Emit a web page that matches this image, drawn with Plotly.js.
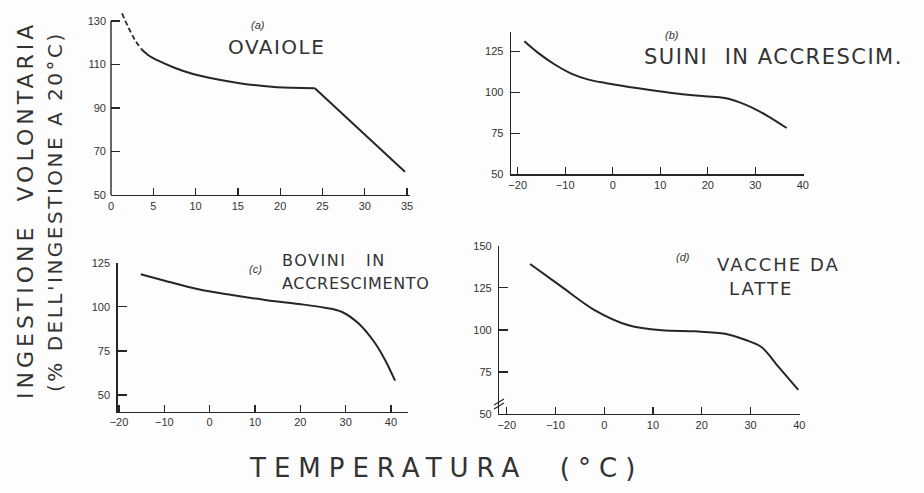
<!DOCTYPE html>
<html>
<head>
<meta charset="utf-8">
<script src="https://cdn.plot.ly/plotly-3.0.1.min.js"></script>
<style>
html,body{margin:0;padding:0;background:#fdfdfd;}
#chart{width:924px;height:493px;}
text[data-unformatted^="INGESTIONE"]{letter-spacing:4px;}
text[data-unformatted^="(%"]{letter-spacing:2.5px;}
text[data-unformatted^="TEMPERATURA"]{letter-spacing:8px;}
text[data-unformatted^="OVAIOLE"]{letter-spacing:1.5px;}
text[data-unformatted^="SUINI"]{letter-spacing:1.5px;}
text[data-unformatted^="BOVINI"]{letter-spacing:1.5px;}
text[data-unformatted^="ACCRESCIMENTO"]{letter-spacing:0.7px;}
text[data-unformatted^="VACCHE"]{letter-spacing:2px;}
text[data-unformatted^="LATTE"]{letter-spacing:2px;}
</style>
</head>
<body>
<div id="chart"></div>
<script>
// ---- data ----
// (a) Ovaiole (laying hens)
const aDashX = [1.3, 2.0, 2.8, 3.6];
const aDashY = [133.5, 127.5, 121.5, 117.0];
const aCurveX = [3.6, 4.5, 5.4, 7.5, 9.7, 12.5, 15.2, 19.6, 24.1];
const aCurveY = [117.0, 114.0, 112.1, 108.5, 105.6, 103.2, 101.4, 99.5, 99.1];
const aLineX = [24.1, 34.75];
const aLineY = [99.1, 60.7];
const aTicksX = [0, 5, 10, 15, 20, 25, 30, 35];
const aTicksY = [50, 70, 90, 110, 130];

// (b) Suini in accrescimento (growing pigs)
const bX = [-18.6, -15.7, -12.2, -8.6, -5.1, -1.6, 5.4, 12.4, 19.4, 23.6, 27.9, 32.1, 36.6];
const bY = [131.1, 124.0, 116.9, 111.2, 107.7, 105.7, 102.4, 99.6, 97.6, 96.5, 92.5, 86.4, 78.2];

// (c) Bovini in accrescimento (growing cattle)
const cX = [-15.2, -9.9, -2.5, 4.9, 12.2, 19.6, 25.4, 29.1, 32.8, 36.5, 38.7, 40.9];
const cY = [118.4, 114.8, 109.9, 106.7, 103.9, 101.6, 99.5, 97.2, 90.6, 79.3, 69.8, 58.1];

// (d) Vacche da latte (dairy cows)
const dX = [-15.2, -8.7, -1.9, 5.0, 11.8, 18.7, 24.8, 28.9, 32.3, 35.8, 39.8];
const dY = [139.1, 125.5, 111.6, 102.7, 99.7, 99.1, 97.7, 94.1, 89.7, 77.8, 64.3];

const tempTicks = [-20, -10, 0, 10, 20, 30, 40];
const ticksY25 = [50, 75, 100, 125];
const ticksYd = [50, 75, 100, 125, 150];

const panelLabels = ['(a)', '(b)', '(c)', '(d)'];
const panelNames = ['OVAIOLE', 'SUINI\u00a0 IN ACCRESCIM.', 'BOVINI\u00a0\u00a0 IN', 'ACCRESCIMENTO', 'VACCHE DA', 'LATTE'];
const yTitle1 = 'INGESTIONE\u00a0 VOLONTARIA';
const yTitle2 = "(% DELL'INGESTIONE A 20°C)";
const xTitle = 'TEMPERATURA\u00a0 (°C)';

// ---- layout helpers (pixel -> paper) ----
const W = 924, H = 493;
const px = v => v / W;
const py = v => 1 - v / H;

const ink = '#262626';
const hand = '#333333';
const lineStyle = {color: ink, width: 2};
const smooth = {shape: 'spline', smoothing: 0.9};

const traces = [
  {x: aDashX, y: aDashY, xaxis: 'x', yaxis: 'y', mode: 'lines', line: {color: ink, width: 1.8, dash: '5px,3px', shape: 'spline', smoothing: 0.9}},
  {x: aCurveX, y: aCurveY, xaxis: 'x', yaxis: 'y', mode: 'lines', line: Object.assign({}, smooth, lineStyle)},
  {x: aLineX, y: aLineY, xaxis: 'x', yaxis: 'y', mode: 'lines', line: lineStyle},
  {x: bX, y: bY, xaxis: 'x2', yaxis: 'y2', mode: 'lines', line: Object.assign({}, smooth, lineStyle)},
  {x: cX, y: cY, xaxis: 'x3', yaxis: 'y3', mode: 'lines', line: Object.assign({}, smooth, lineStyle)},
  {x: dX, y: dY, xaxis: 'x4', yaxis: 'y4', mode: 'lines', line: Object.assign({}, smooth, lineStyle)}
];

const tickFont = {family: 'Liberation Sans, Arial, sans-serif', size: 11, color: '#333'};
function xa(domain, range, tickvals, anchor) {
  return {domain, range, tickvals, ticktext: tickvals.map(v => v < 0 ? '\u2212' + Math.abs(v) : String(v)),
    anchor, showline: true, linecolor: ink, linewidth: 1.4, ticks: 'inside', ticklen: 7, tickwidth: 1.3,
    tickcolor: ink, showgrid: false, zeroline: false, tickfont: tickFont, fixedrange: true};
}
function ya(domain, range, tickvals, anchor, showline) {
  return {domain, range, tickvals, anchor, showline: showline, linecolor: ink, linewidth: 1.4,
    ticks: 'inside', ticklen: 9, tickwidth: 1.3, tickcolor: ink, showgrid: false, zeroline: false,
    tickfont: tickFont, ticklabelstandoff: 4, fixedrange: true};
}

const handFont = (s) => ({family: 'DejaVu Sans, sans-serif', size: s, color: hand});
const ann = (text, x, y, size, opts) => Object.assign({text, xref: 'paper', yref: 'paper', x: px(x), y: py(y),
  showarrow: false, font: handFont(size), xanchor: 'center', yanchor: 'middle'}, opts || {});
const labFont = {family: 'Liberation Sans, Arial, sans-serif', size: 11, color: '#333', style: 'italic'};

const layout = {
  width: W, height: H,
  margin: {l: 0, r: 0, t: 0, b: 0},
  paper_bgcolor: '#fdfdfd', plot_bgcolor: 'rgba(0,0,0,0)',
  showlegend: false,
  xaxis:  xa([px(111), px(410)], [0, 35.35], aTicksX, 'y'),
  yaxis:  ya([py(195), py(10.1)], [50, 135], aTicksY, 'x', false),
  xaxis2: xa([px(511), px(803.5)], [-21.41, 40.15], tempTicks, 'y2'),
  yaxis2: ya([py(174.3), py(31.7)], [50, 136.9], ticksY25, 'x2', true),
  xaxis3: xa([px(117.7), px(408.3)], [-20.29, 43.82], tempTicks, 'y3'),
  yaxis3: ya([py(411.7), py(262.7)], [40.5, 125], ticksY25, 'x3', true),
  xaxis4: xa([px(499.3), px(799.5)], [-21.52, 40.05], tempTicks, 'y4'),
  yaxis4: ya([py(414), py(245.7)], [50, 150], ticksYd, 'x4', true),
  shapes: [
    // y axis line of panel (a), ending at 130
    {type: 'line', xref: 'x domain', yref: 'y', x0: 0, x1: 0, y0: 50, y1: 130, line: {color: ink, width: 1.4}},
    // axis break marks on panel (d)
    {type: 'line', xref: 'paper', yref: 'paper', x0: px(494), y0: py(405), x1: px(504), y1: py(399), line: {color: ink, width: 1.2}},
    {type: 'line', xref: 'paper', yref: 'paper', x0: px(494), y0: py(409), x1: px(504), y1: py(403), line: {color: ink, width: 1.2}}
  ],
  annotations: [
    ann(yTitle1, 25, 210, 22, {textangle: -90}),
    ann(yTitle2, 55, 212, 20, {textangle: -90}),
    ann(xTitle, 446, 468, 26),
    ann(panelNames[0], 276, 47, 20),
    ann(panelNames[1], 642, 57, 21, {xanchor: 'left'}),
    ann(panelNames[2], 280, 260, 16, {xanchor: 'left'}),
    ann(panelNames[3], 280, 283, 16, {xanchor: 'left'}),
    ann(panelNames[4], 778, 264, 18),
    ann(panelNames[5], 761, 288, 18),
    ann(panelLabels[0], 258, 25, 11, {font: labFont}),
    ann(panelLabels[1], 672, 35, 11, {font: labFont}),
    ann(panelLabels[2], 255, 269, 11, {font: labFont}),
    ann(panelLabels[3], 683, 257, 11, {font: labFont})
  ]
};

Plotly.newPlot('chart', traces, layout, {staticPlot: true, displayModeBar: false});
</script>
</body>
</html>
